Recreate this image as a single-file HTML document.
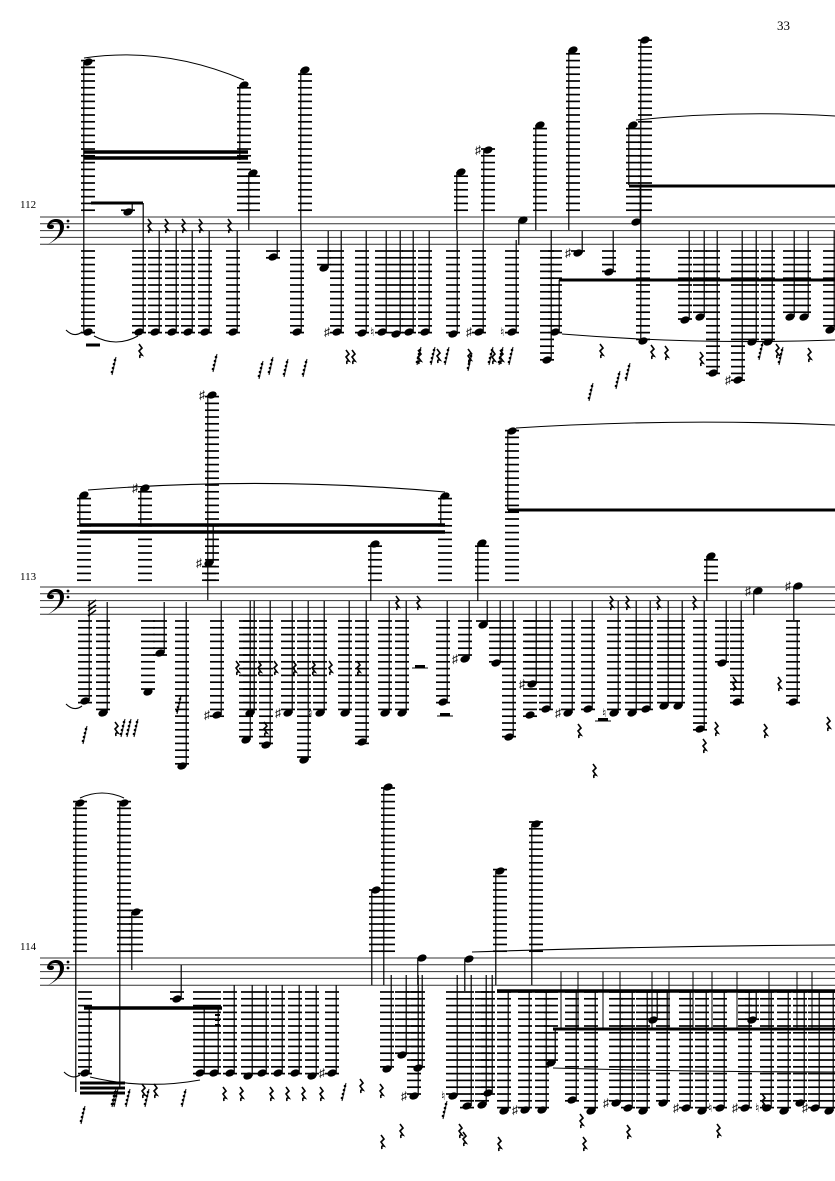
<!DOCTYPE html>
<html><head><meta charset="utf-8"><style>
html,body{margin:0;padding:0;background:#fff;}
svg{display:block;}
text{font-family:"Liberation Serif",serif;fill:#000;}
</style></head><body>
<svg id="s" width="835" height="1181" viewBox="0 0 835 1181" xmlns="http://www.w3.org/2000/svg">
<text x="777" y="30" font-size="13">33</text>
<text x="20" y="208" font-size="11">112</text>
<text x="20" y="580" font-size="11">113</text>
<text x="20" y="950" font-size="11">114</text>
<g id="g"></g>
</svg>
<script>
const NS="http://www.w3.org/2000/svg";
let out="";
const SP=6.8;
function line(x1,y1,x2,y2,w,c){out+=`<line x1="${x1}" y1="${y1}" x2="${x2}" y2="${y2}" stroke="${c||'#000'}" stroke-width="${w||1}"/>`;}
function staff(T){for(let i=0;i<5;i++)line(40,T+i*SP,835,T+i*SP,1,'#333');
 out+=`<path d="M47 ${T+9} q2 -7 9 -7 q8 0 8 8 q0 9 -17 18 q13 -8 13 -17 q0 -6 -5 -6 q-4 0 -5 3 q3 -1 4 1 q0 3 -3 3 q-4 0 -4 -3z" fill="#000"/>`;
 out+=`<circle cx="68" cy="${T+4}" r="1.4"/><circle cx="68" cy="${T+10}" r="1.4"/>`;}
function note(T,n){const [x,y,se,acc]=n;const B=T+4*SP;
 for(let ly=T-SP;ly>=y-2;ly-=SP)line(x-7,ly,x+7,ly,1.7);
 for(let ly=B+SP;ly<=y+2;ly+=SP)line(x-7,ly,x+7,ly,1.7);
 out+=`<ellipse cx="${x}" cy="${y}" rx="4.8" ry="3.4" transform="rotate(-22 ${x} ${y})"/>`;
 if(se!=null&&se!==undefined){const sx=se<y?x+4.2:x-4.2;line(sx,y,sx,se,1.2);}
 if(acc==='s'){out+=`<text x="${x-13}" y="${y+4}" font-size="12" font-family="DejaVu Sans">♯</text>`;}
 if(acc==='n'){out+=`<text x="${x-12}" y="${y+4}" font-size="12" font-family="DejaVu Sans">♮</text>`;}
}
function beam(x1,x2,y,t){out+=`<rect x="${x1}" y="${y-t/2}" width="${x2-x1}" height="${t}"/>`;}
function slur(x1,y1,x2,y2,cy){out+=`<path d="M${x1} ${y1} Q${(x1+x2)/2} ${cy} ${x2} ${y2}" fill="none" stroke="#000" stroke-width="1.1"/>`;}
function rest(x,y){out+=`<path d="M${x} ${y-6} l3 4 l-3 3 l3 4 q-3 -1 -2 3" fill="none" stroke="#000" stroke-width="1.6"/>`;}
function r32(x,y){line(x+3,y-9,x-1,y+9,1);for(let i=0;i<4;i++)out+=`<circle cx="${x+2-i}" cy="${y-6+i*4}" r="1.3"/>`;}
function hrest(x,y){out+=`<rect x="${x}" y="${y}" width="10" height="3"/>`;line(x-3,y+3,x+13,y+3,1);}
// SYSTEM 1
let T=217;staff(T);
[[88,62,332],[88,332,null],[128,212,203],[139,332,203],[155,332,231],[172,332,231],[188,332,231],[205,332,231],[233,332,231],
[244,85,160],[253,173,230],[273,257,230],[297,332,231],[305,70,230],[324,268,231],[337,332,231,'s'],[362,333,231],[382,332,231,'n'],[396,334,231],[409,332,231],[425,332,231],
[453,334,231],[461,172,230],[479,332,231,'s'],[488,150,230,'s'],[512,332,240,'n'],[523,220,245],[540,125,230],
[547,360,230],[555,332,280],[573,50,230],[578,253,231,'s'],[609,272,231],[636,222,185],[633,125,185],[645,40,341],[643,341,null],
[685,320,231],[700,317,231],[713,373,231],[738,380,231,'s'],[752,342,231],[768,342,231],[790,317,231],[804,317,231],[830,330,231]].forEach(n=>note(T,n));
beam(84,248,152,3.5);beam(84,248,158,3.5);beam(91,143,203,3);beam(559,835,280,3);beam(629,835,186,3);
slur(84,58,244,80,46);slur(66,330,82,332,338);slur(94,336,138,336,348);slur(636,120,835,116,110);slur(562,334,835,340,345);
[148,165,182,199,228].forEach(x=>rest(x,225));
[[113,366],[214,363],[260,370],[270,366],[285,368],[304,368],[418,356],[432,356],[446,356],[469,362],[490,356],[500,356],[510,356],[590,392],[617,380],[627,372],[760,351],[780,356]].forEach(p=>r32(p[0],p[1]));
[[139,350],[346,356],[352,356],[418,356],[437,355],[468,355],[492,356],[500,356],[600,350],[651,351],[665,352],[700,358],[776,350],[808,354]].forEach(p=>rest(p[0],p[1]));
beam(86,100,345,3);
// SYSTEM 2
T=587;staff(T);
[[84,495,525],[85,701,601],[103,713,602],[145,488,525,'s'],[148,692,null],[160,653,602],[182,766,602],[212,395,600,'s'],[209,563,525,'s'],[217,715,601,'s'],
[250,713,601],[246,740,601],[266,745,601],[288,713,601,'s'],[304,760,601],[320,713,601,'n'],[345,713,601],[362,742,601],[375,544,601],[385,713,601],[402,713,601],
[443,702,601],[445,496,525],[465,659,601,'s'],[482,543,601],[483,625,601],[496,663,601],[509,737,601],[532,684,601,'s'],[530,715,null],[546,709,601],[568,713,601,'s'],[588,709,601],
[512,431,510],[614,713,601,'n'],[632,713,601],[646,709,601],[664,706,601],[678,706,601],[700,729,601],[711,556,601],[722,663,601],[737,702,601],[758,591,615,'s'],[793,702,620],[798,586,620,'s']].forEach(n=>note(T,n));
beam(80,445,525,3.5);beam(80,445,532,3.5);beam(508,835,510,3);
slur(88,490,445,492,476);slur(66,704,82,706,712);slur(516,428,835,425,418);
hrest(415,665);hrest(440,713);hrest(598,718);
for(let i=0;i<3;i++)line(88,606+i*5,96,600+i*5,1.5);
[[84,735],[122,728],[128,728],[135,728],[178,705]].forEach(p=>r32(p[0],p[1]));
[[115,728],[236,667],[258,667],[274,667],[293,667],[312,667],[329,667],[264,728],[357,667],[396,602],[417,602],[578,730],[610,602],[626,602],[657,602],[693,602],[715,728],[733,683],[764,730],[778,683],[827,723],[703,745],[593,770]].forEach(p=>rest(p[0],p[1]));
// SYSTEM 3
T=958;staff(T);
[[80,803,1092],[124,803,1088],[136,912,970],[376,890,985],[388,787,985],[422,958,985],[469,959,991],[500,871,985],[536,824,985],
[85,1073,1008],[177,999,965],[200,1073,1008],[214,1073,1008],[230,1073,985],[248,1076,985],[262,1073,985],[278,1073,985],[295,1073,985],[312,1076,985],[332,1073,985,'s'],[387,1069,975],
[402,1055,975],[418,1068,975],[414,1096,975,'s'],[453,1096,975,'n'],[467,1106,975],[482,1105,975],[488,1093,975],[504,1111,991],[525,1110,991,'s'],[542,1110,991],[551,1063,1029],[572,1100,991],[591,1111,991],[616,1103,991,'s'],[628,1108,991],[643,1111,991],[653,1020,991],[663,1103,991],[686,1108,991,'s'],[702,1111,991],[720,1108,991,'n'],[745,1108,991,'s'],[752,1020,991],[767,1108,991,'n'],[784,1111,991],[800,1103,991],[815,1108,991,'s'],[829,1111,991]].forEach(n=>note(T,n));
[561,578,603,620,652,669,693,712,737,769,797,812].forEach(x=>line(x,972,x,1029,1));
beam(84,222,1008,3.5);beam(80,125,1083,3);beam(80,125,1088,3);beam(80,125,1093,3);beam(497,835,991,3.5);beam(553,835,1029,3);
beam(215,220,1015,2);beam(215,220,1020,2);beam(215,220,1025,2);
slur(80,798,124,798,788);slur(64,1072,80,1075,1080);slur(90,1077,200,1080,1090);slur(472,952,835,945,946);slur(553,1068,835,1072,1072);
[[82,1115],[113,1098],[115,1098],[127,1098],[146,1098],[183,1098],[343,1092],[444,1110]].forEach(p=>r32(p[0],p[1]));
[[142,1090],[154,1090],[223,1093],[240,1093],[270,1093],[286,1093],[302,1093],[320,1093],[380,1090],[360,1085],[381,1141],[400,1130],[459,1130],[463,1138],[498,1143],[583,1143],[627,1131],[717,1130],[762,1100],[580,1120]].forEach(p=>rest(p[0],p[1]));
document.getElementById('g').innerHTML=out;
</script>
</body></html>
